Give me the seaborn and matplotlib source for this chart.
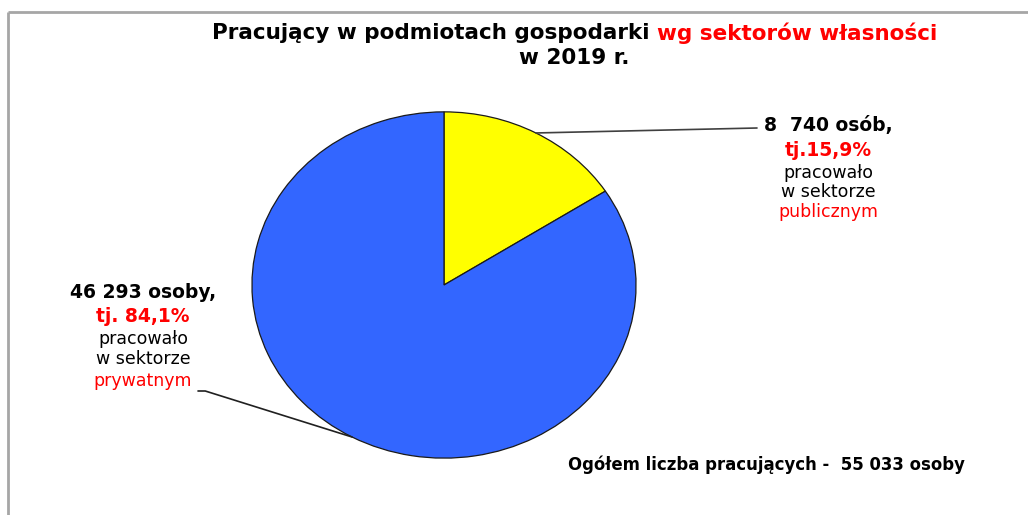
import matplotlib
matplotlib.use("Agg")
import matplotlib.pyplot as plt
import numpy as np
import seaborn as sns

# ---- data ----
sectors = ["publiczny", "prywatny"]
workers = [8740, 46293]
shares = [15.9, 84.1]
colors = ["#FFFF00", "#3366FF"]
title_black = "Pracujący w podmiotach gospodarki"
title_red = "wg sektorów własności"
title_line2 = "w 2019 r."
label_pub = ["8  740 osób,", "tj.15,9%", "pracowało", "w sektorze", "publicznym"]
label_prv = ["46 293 osoby,", "tj. 84,1%", "pracowało", "w sektorze", "prywatnym"]
total_text = "Ogółem liczba pracujących -  55 033 osoby"

sns.set_theme(style="white")
plt.rcParams["font.family"] = ["DejaVu Sans"]

W, H = 1028, 515
fig = plt.figure(figsize=(W / 100, H / 100), dpi=100)
fig.patch.set_facecolor("white")

# overlay axes in pixel coordinates
bg = fig.add_axes([0, 0, 1, 1])
bg.set_xlim(0, W)
bg.set_ylim(H, 0)
bg.axis("off")

# frame lines (top and left)
bg.plot([8, W], [12, 12], color="#A6A6A6", lw=2, solid_capstyle="butt")
bg.plot([8, 8], [12, H], color="#A6A6A6", lw=2, solid_capstyle="butt")

# pie axes
px0, px1, py0, py1 = 251, 637, 111, 459
pax = fig.add_axes([px0 / W, (H - py1) / H, (px1 - px0) / W, (py1 - py0) / H])
wedges, _ = pax.pie(workers, colors=colors, startangle=90, counterclock=False,
                    wedgeprops=dict(edgecolor="#1a1a1a", linewidth=0.9))
pax.set_aspect("auto")
pax.set_xlim(-1.005, 1.005)
pax.set_ylim(-1.005, 1.005)
pax.axis("off")

# title
bg.text(649, 33, title_black, ha="right", va="center", fontsize=15.5,
        fontweight="bold", color="black")
bg.text(657, 33, title_red, ha="left", va="center", fontsize=15.5,
        fontweight="bold", color="#FF0000")
bg.text(574, 58, title_line2, ha="center", va="center", fontsize=15.5,
        fontweight="bold", color="black")

# leader lines from wedge mid-angles
def mid_point(w):
    a = np.deg2rad((w.theta1 + w.theta2) / 2)
    return np.cos(a), np.sin(a)

pax.annotate("", xy=mid_point(wedges[0]), xycoords="data",
             xytext=(757, H - 128), textcoords="figure pixels",
             arrowprops=dict(arrowstyle="-", color="#404040", lw=1.2,
                             shrinkA=0, shrinkB=0))
pax.annotate("", xy=mid_point(wedges[1]), xycoords="data",
             xytext=(198, H - 391), textcoords="figure pixels",
             arrowprops=dict(arrowstyle="-", color="#202020", lw=1.2,
                             shrinkA=0, shrinkB=0,
                             connectionstyle="angle,angleA=0,angleB=162.6,rad=0"))

# labels
def draw_label(lines, cx, ys):
    styles = [
        dict(fontsize=13.5, fontweight="bold", color="black"),
        dict(fontsize=13.5, fontweight="bold", color="#FF0000"),
        dict(fontsize=12.5, fontweight="normal", color="black"),
        dict(fontsize=12.5, fontweight="normal", color="black"),
        dict(fontsize=12.5, fontweight="normal", color="#FF0000"),
    ]
    for t, y, st in zip(lines, ys, styles):
        bg.text(cx, y, t, ha="center", va="center", **st)

draw_label(label_pub, 828, [125, 150, 173, 192, 212])
draw_label(label_prv, 143, [292, 316, 339, 359, 381])

bg.text(568, 465, total_text, ha="left", va="center", fontsize=11.9,
        fontweight="bold", color="black")

fig.savefig("out.png", dpi=100, facecolor="white")
